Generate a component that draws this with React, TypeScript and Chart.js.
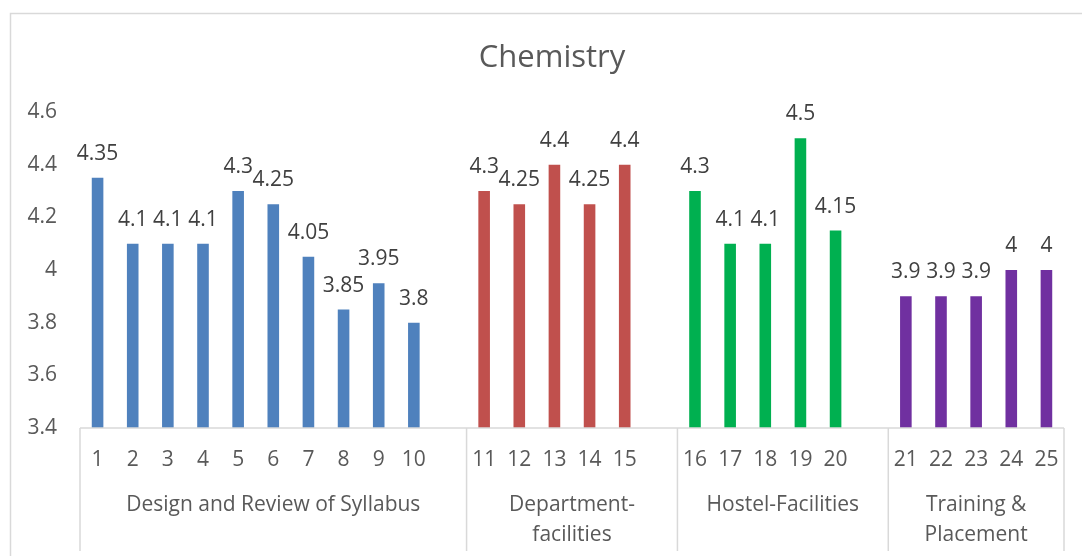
import React, { useEffect, useRef } from "react";
import { Chart, registerables } from "chart.js";

Chart.register(...registerables);

const chartTitle = "Chemistry";

const syllabusItems = ["1", "2", "3", "4", "5", "6", "7", "8", "9", "10"];
const syllabusScores = [4.35, 4.1, 4.1, 4.1, 4.3, 4.25, 4.05, 3.85, 3.95, 3.8];

const departmentItems = ["11", "12", "13", "14", "15"];
const departmentScores = [4.3, 4.25, 4.4, 4.25, 4.4];

const hostelItems = ["16", "17", "18", "19", "20"];
const hostelScores = [4.3, 4.1, 4.1, 4.5, 4.15];

const placementItems = ["21", "22", "23", "24", "25"];
const placementScores = [3.9, 3.9, 3.9, 4, 4];

const groupNames = [
  ["Design and Review of Syllabus"],
  ["Department-", "facilities"],
  ["Hostel-Facilities"],
  ["Training &", "Placement"],
];
const groupColors = ["#4F81BD", "#C0504D", "#00B050", "#7030A0"];

const yMin = 3.4;
const yMax = 4.6;
const yStep = 0.2;

const FONT = "'Open Sans', 'DejaVu Sans', sans-serif";
const AXIS_TEXT = "#595959";
const LABEL_TEXT = "#404040";
const LINE = "#d9d9d9";

type Group = { start: number; count: number; names: string[] };

function buildData() {
  const groupsItems = [syllabusItems, departmentItems, hostelItems, placementItems];
  const groupsScores = [syllabusScores, departmentScores, hostelScores, placementScores];
  const labels: string[] = [];
  const values: (number | null)[] = [];
  const colors: string[] = [];
  const groups: Group[] = [];
  groupsItems.forEach((items, gi) => {
    const start = labels.length;
    items.forEach((it, i) => {
      labels.push(it);
      values.push(groupsScores[gi][i]);
      colors.push(groupColors[gi]);
    });
    if (gi < groupsItems.length - 1) {
      labels.push("");
      values.push(null);
      colors.push("rgba(0,0,0,0)");
    }
    groups.push({ start, count: labels.length - start, names: groupNames[gi] });
  });
  return { labels, values, colors, groups };
}

export default function App() {
  const ref = useRef<HTMLCanvasElement | null>(null);

  useEffect(() => {
    if (!ref.current) return;
    const { labels, values, colors, groups } = buildData();

    const decorPlugin = {
      id: "decor",
      beforeDraw(chart: any) {
        const ctx = chart.ctx;
        ctx.save();
        ctx.fillStyle = "#ffffff";
        ctx.fillRect(0, 0, chart.width, chart.height);
        ctx.strokeStyle = LINE;
        ctx.lineWidth = 1.5;
        ctx.strokeRect(10.5, 13.5, 1300, 800);
        ctx.fillStyle = AXIS_TEXT;
        ctx.font = `31px ${FONT}`;
        ctx.textAlign = "center";
        ctx.textBaseline = "alphabetic";
        ctx.fillText(chartTitle, 552, 67);
        ctx.restore();
      },
      afterDraw(chart: any) {
        const ctx = chart.ctx;
        const xs = chart.scales.x;
        const area = chart.chartArea;
        const n = labels.length;
        const slot = (xs.right - xs.left) / n;
        ctx.save();
        ctx.strokeStyle = LINE;
        ctx.lineWidth = 1.5;
        ctx.beginPath();
        ctx.moveTo(xs.left, area.bottom);
        ctx.lineTo(xs.right, area.bottom);
        const bounds: number[] = [xs.left];
        groups.forEach((g) => bounds.push(xs.left + (g.start + g.count) * slot));
        bounds.forEach((bx) => {
          ctx.moveTo(bx, area.bottom);
          ctx.lineTo(bx, 551);
        });
        ctx.stroke();
        ctx.fillStyle = AXIS_TEXT;
        ctx.font = `21px ${FONT}`;
        ctx.textAlign = "center";
        ctx.textBaseline = "middle";
        groups.forEach((g) => {
          const cx = xs.left + (g.start + g.count / 2) * slot;
          g.names.forEach((line, li) => {
            ctx.fillText(line, cx, 505 + li * 30);
          });
        });
        ctx.restore();
      },
      afterDatasetsDraw(chart: any) {
        const ctx = chart.ctx;
        const meta = chart.getDatasetMeta(0);
        ctx.save();
        ctx.fillStyle = LABEL_TEXT;
        ctx.font = `21px ${FONT}`;
        ctx.textAlign = "center";
        ctx.textBaseline = "alphabetic";
        meta.data.forEach((bar: any, i: number) => {
          const v = values[i];
          if (v === null || v === undefined) return;
          ctx.fillText(String(v), bar.x, bar.y - 18);
        });
        ctx.restore();
      },
    };

    const chart = new Chart(ref.current, {
      type: "bar",
      data: {
        labels,
        datasets: [
          {
            data: values,
            backgroundColor: colors,
            borderWidth: 0,
            barPercentage: 0.33,
            categoryPercentage: 1,
          },
        ],
      },
      options: {
        animation: false,
        responsive: false,
        maintainAspectRatio: false,
        layout: { padding: { left: 0, right: 18, top: 112, bottom: 0 } },
        plugins: {
          legend: { display: false },
          title: { display: false },
          tooltip: { enabled: false },
        },
        scales: {
          x: {
            grid: { display: false, drawTicks: false },
            border: { display: false },
            ticks: {
              autoSkip: false,
              maxRotation: 0,
              minRotation: 0,
              padding: 19,
              color: AXIS_TEXT,
              font: { family: FONT, size: 21 },
            },
            afterFit(scale: any) {
              scale.height = 128;
            },
          },
          y: {
            min: yMin,
            max: yMax,
            grid: { display: false, drawTicks: false },
            border: { display: false },
            ticks: {
              stepSize: yStep,
              padding: 23,
              color: AXIS_TEXT,
              font: { family: FONT, size: 21 },
              callback: (v: any) => String(Number(Number(v).toFixed(2))),
            },
            afterFit(scale: any) {
              scale.width = 80;
            },
          },
        },
      },
      plugins: [decorPlugin],
    });
    return () => chart.destroy();
  }, []);

  return (
    <div style={{ position: "fixed", left: 0, top: 0, width: 1082, height: 556, background: "#fff" }}>
      <canvas ref={ref} width={1082} height={556} style={{ display: "block" }} />
    </div>
  );
}
